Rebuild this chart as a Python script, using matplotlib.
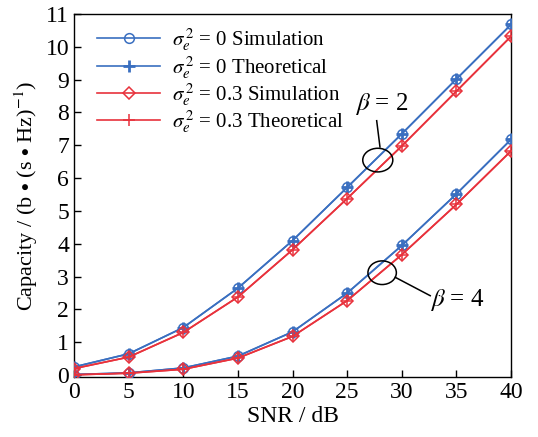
import matplotlib
matplotlib.use("Agg")
import matplotlib.pyplot as plt
from matplotlib.patches import Ellipse

snr = [0, 5, 10, 15, 20, 25, 30, 35, 40]
b2_s0 = [0.25, 0.65, 1.45, 2.65, 4.10, 5.72, 7.35, 9.02, 10.68]
b2_s03 = [0.20, 0.55, 1.30, 2.38, 3.82, 5.38, 6.98, 8.65, 10.32]
b4_s0 = [0.02, 0.07, 0.22, 0.58, 1.32, 2.50, 3.95, 5.52, 7.18]
b4_s03 = [0.01, 0.06, 0.18, 0.52, 1.18, 2.27, 3.67, 5.20, 6.83]
xticks = [0, 5, 10, 15, 20, 25, 30, 35, 40]
yticks = list(range(0, 12))

plt.rcParams['font.family'] = ['Liberation Serif', 'DejaVu Serif']
plt.rcParams['mathtext.fontset'] = 'stix'

blue = '#3a6fc0'
red = '#e8323c'

fig = plt.figure(figsize=(5.38, 4.37), dpi=100)
ax = fig.add_axes([0.1375, 0.137, 0.8125, 0.831])

lw = 1.2
for b0, b3, lab in [(b2_s0, b2_s03, True), (b4_s0, b4_s03, False)]:
    ax.plot(snr, b0, color=blue, lw=lw, marker='o', ms=7, mfc='none', mew=1.1,
            label=r'$\sigma_e^{\,2}$ = 0 Simulation' if lab else None, zorder=3)
    ax.plot(snr, b0, color=blue, lw=lw, marker='+', ms=8, mew=2.0,
            label=r'$\sigma_e^{\,2}$ = 0 Theoretical' if lab else None, zorder=3)
    ax.plot(snr, b3, color=red, lw=lw, marker='D', ms=6, mfc='none', mew=1.1,
            label=r'$\sigma_e^{\,2}$ = 0.3 Simulation' if lab else None, zorder=4)
    ax.plot(snr, b3, color=red, lw=lw, marker='+', ms=9, mew=1.1,
            label=r'$\sigma_e^{\,2}$ = 0.3 Theoretical' if lab else None, zorder=4)

ax.set_xlim(0, 40)
ax.set_ylim(-0.06, 11)
ax.set_xticks(xticks)
ax.set_yticks(yticks)
ax.tick_params(direction='in', labelsize=17, length=5, width=1)
for s in ax.spines.values():
    s.set_linewidth(1.0)
ax.set_xlabel('SNR / dB', fontsize=17, labelpad=2)
ax.set_ylabel(r'Capacity / (b $\bullet$ (s $\bullet$ Hz)$^{-1}$)', fontsize=16, labelpad=4)

leg = ax.legend(loc='upper left', bbox_to_anchor=(0.025, 1.0), fontsize=15,
                frameon=False, handlelength=3.0,
                borderaxespad=0.3, labelspacing=0.02, handletextpad=0.6,
                borderpad=0.3)

# annotations
ax.add_patch(Ellipse((27.8, 6.55), 2.75, 0.72, fill=False, ec='black', lw=1.1, zorder=5))
ax.plot([28.0, 27.7], [6.95, 7.75], color='black', lw=1.1)
ax.text(28.2, 8.25, r'$\beta$ = 2', fontsize=18, ha='center', va='center')

ax.add_patch(Ellipse((28.2, 3.12), 2.6, 0.72, fill=False, ec='black', lw=1.1, zorder=5))
ax.plot([29.4, 32.6], [2.98, 2.42], color='black', lw=1.1)
ax.text(35.1, 2.3, r'$\beta$ = 4', fontsize=18, ha='center', va='center')

fig.savefig('out.png', dpi=100)
